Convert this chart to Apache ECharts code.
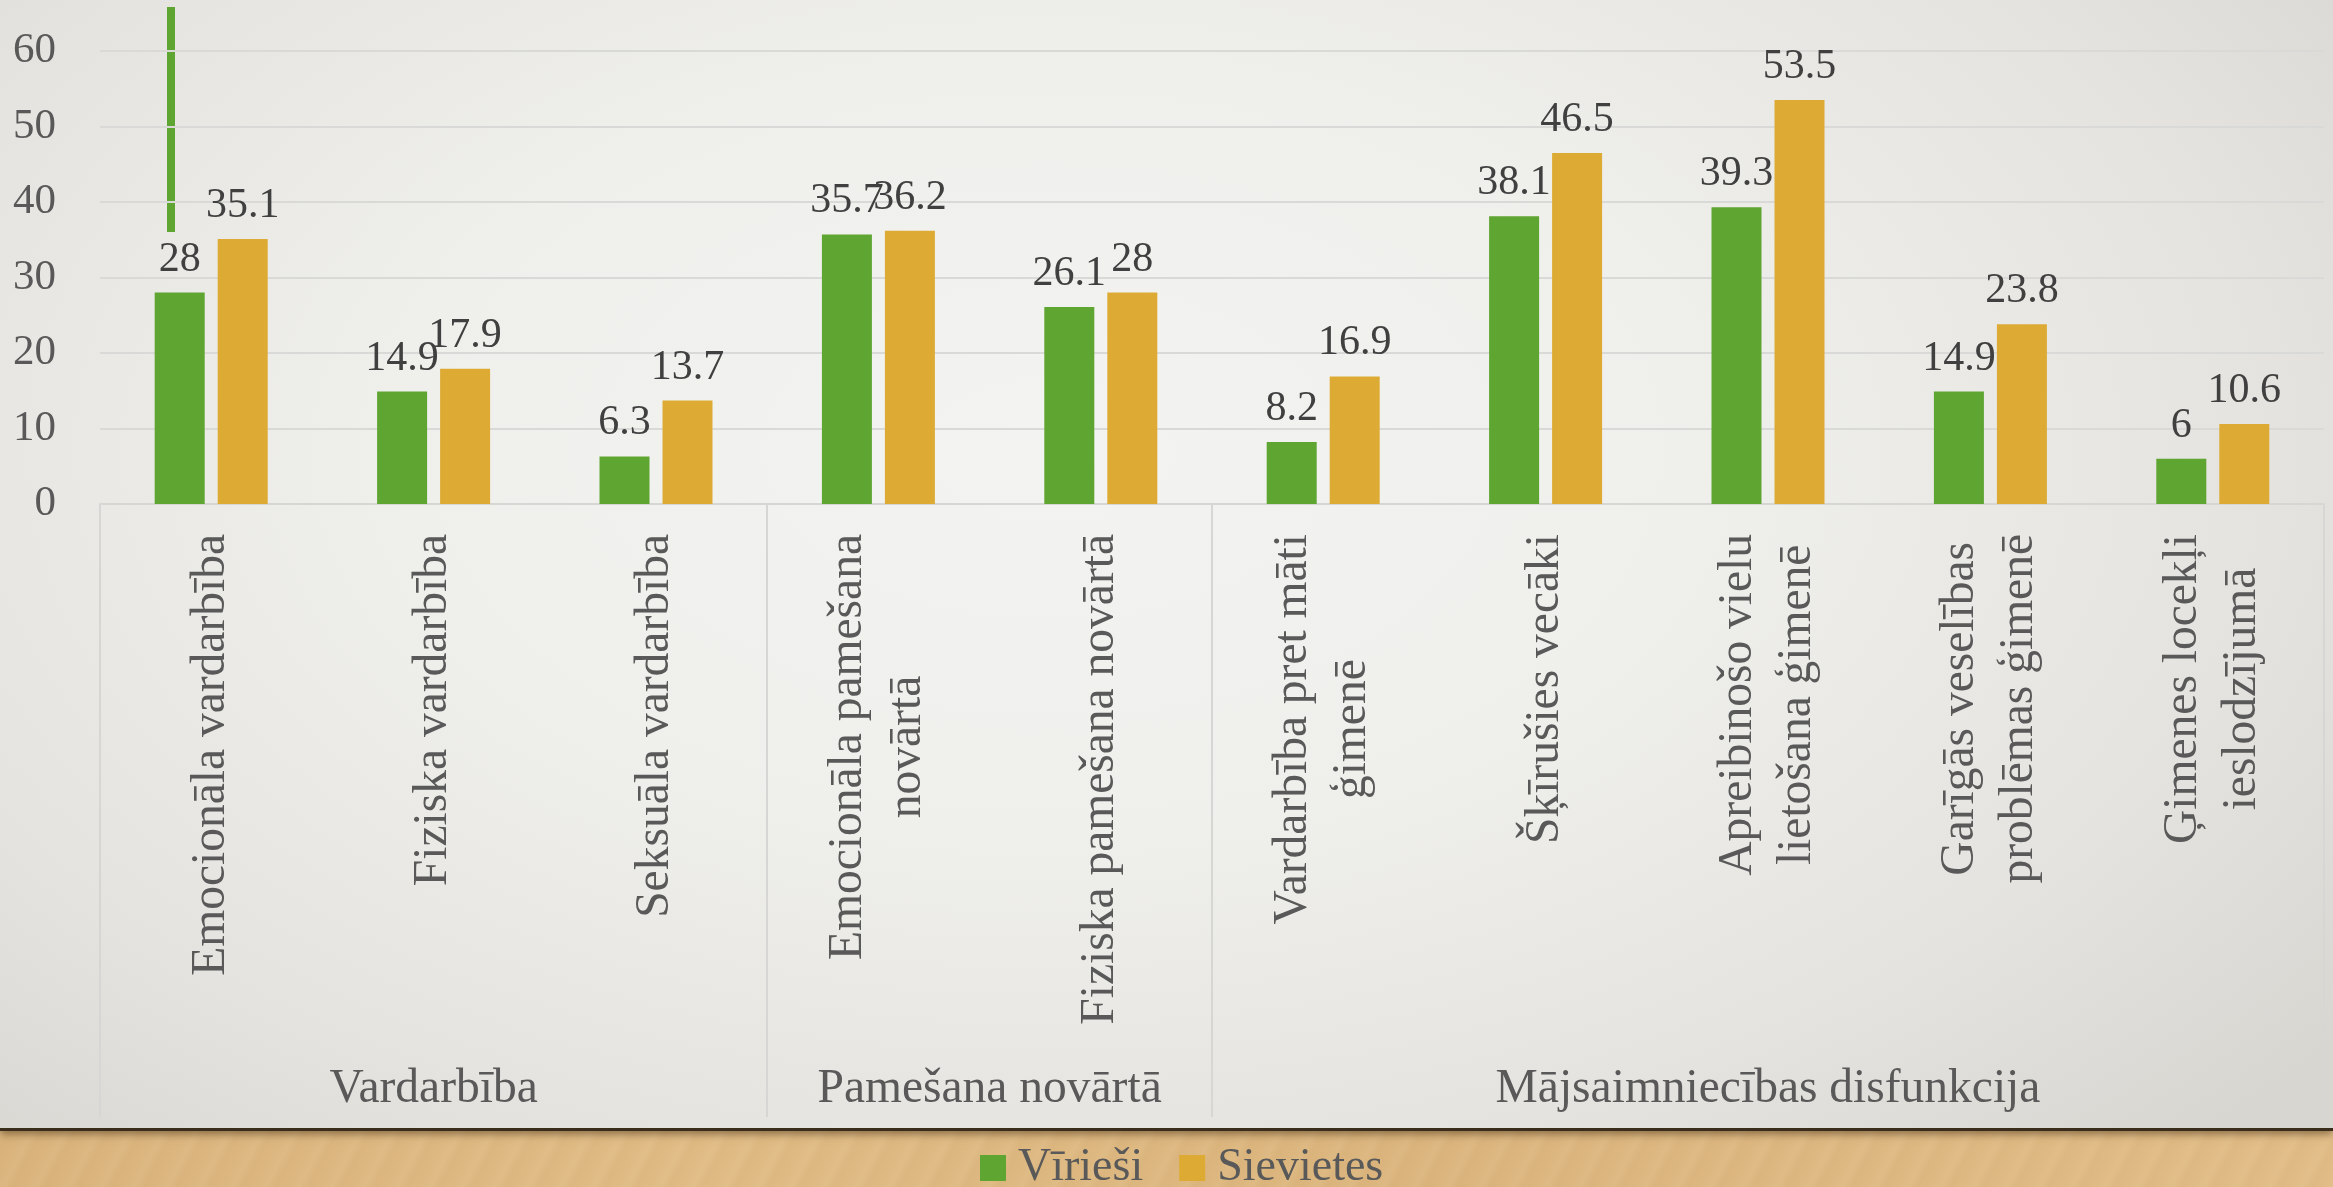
<!DOCTYPE html>
<html>
<head>
<meta charset="utf-8">
<script src="https://cdn.jsdelivr.net/npm/echarts@6/dist/echarts.min.js"></script>
<style>
  html, body { margin: 0; padding: 0; }
  body {
    width: 2333px; height: 1187px; overflow: hidden; position: relative;
    background:
      repeating-linear-gradient(118deg, rgba(255,255,255,0) 0px, rgba(255,240,215,0.06) 9px, rgba(150,100,45,0.03) 17px, rgba(255,255,255,0) 29px),
      linear-gradient(90deg, #dab47c 0%, #e0bb84 30%, #dbb57d 60%, #e1bc86 100%);
  }
  .panel {
    position: absolute; left: 0; top: 0; width: 2333px; height: 1128px;
    background: radial-gradient(ellipse 70% 85% at 45% 40%, #f3f3f1 0%, #efefec 40%, #e4e3df 75%, #d7d6d1 100%);
    box-shadow: 0 3px 0 #3b2d1c, 0 6px 8px rgba(70,45,20,0.55);
  }
  #chart { position: absolute; left: 0; top: 0; width: 2333px; height: 1187px; }
</style>
</head>
<body>
<div class="panel"></div>
<div id="chart"></div>
<script>
const categories = [
  'Emocionāla vardarbība',
  'Fiziska vardarbība',
  'Seksuāla vardarbība',
  'Emocionāla pamešana\nnovārtā',
  'Fiziska pamešana novārtā',
  'Vardarbība pret māti\nģimenē',
  'Šķīrušies vecāki',
  'Apreibinošo vielu\nlietošana ģimenē',
  'Garīgās veselības\nproblēmas ģimenē',
  'Ģimenes locekļi\nieslodzījumā'
];
const groupNames = ['Vardarbība', 'Pamešana novārtā', 'Mājsaimniecības disfunkcija'];
const groupSizes = [3, 2, 5];
const men = [28, 14.9, 6.3, 35.7, 26.1, 8.2, 38.1, 39.3, 14.9, 6];
const women = [35.1, 17.9, 13.7, 36.2, 28, 16.9, 46.5, 53.5, 23.8, 10.6];
const yTicks = [0, 10, 20, 30, 40, 50, 60];

// group boundaries and centers on a 0..N value scale
const bounds = [0];
groupSizes.forEach(n => bounds.push(bounds[bounds.length - 1] + n));
const centers = groupSizes.map((n, i) => bounds[i] + n / 2);

const font = 'Liberation Serif';
const chart = echarts.init(document.getElementById('chart'));
chart.setOption({
  backgroundColor: 'transparent',
  textStyle: { fontFamily: font },
  grid: { left: 100, right: 9, top: 51, bottom: 683 },
  legend: {
    left: 975, top: 1140,
    icon: 'rect', itemWidth: 26, itemHeight: 26, itemGap: 36,
    textStyle: { fontSize: 46, color: '#595959', fontFamily: font, padding: [0, 0, 0, 7] },
    data: ['Vīrieši', 'Sievietes']
  },
  xAxis: [{
    type: 'category',
    data: categories,
    axisLine: { lineStyle: { color: '#d6d6d4', width: 2 } },
    axisTick: { show: false },
    axisLabel: {
      interval: 0, rotate: 90, margin: 30,
      formatter: v => v.split('\n').map(s => '{c|' + s + '}').join('\n'),
      rich: { c: { align: 'center', fontSize: 47.5, lineHeight: 59, color: '#595959', fontFamily: font } }
    }
  }, {
    type: 'value', min: 0, max: categories.length,
    position: 'bottom',
    axisLine: { show: false },
    splitLine: { show: false },
    axisTick: { customValues: bounds, length: 613, lineStyle: { color: '#d6d6d4', width: 2 } },
    axisLabel: {
      customValues: centers, margin: 562,
      fontSize: 47.5, color: '#595959', fontFamily: font,
      formatter: v => groupNames[centers.indexOf(v)]
    }
  }],
  yAxis: {
    type: 'value', min: yTicks[0], max: yTicks[yTicks.length - 1], interval: 10,
    axisLine: { show: false }, axisTick: { show: false },
    splitLine: { lineStyle: { color: '#d9d9d7', width: 2 } },
    axisLabel: { fontSize: 43, color: '#595959', margin: 44, fontFamily: font }
  },
  graphic: [{
    type: 'rect', left: 167, top: 7, z: -1,
    shape: { width: 8, height: 225 },
    style: { fill: '#5EA531' }
  }],
  series: [{
    name: 'Vīrieši', type: 'bar', data: men,
    barWidth: 50, barGap: '26%',
    itemStyle: { color: '#5EA531' },
    label: { show: true, position: 'top', distance: 12, fontSize: 42, color: '#404040', fontFamily: font }
  }, {
    name: 'Sievietes', type: 'bar', data: women,
    barWidth: 50,
    itemStyle: { color: '#DDAB34' },
    label: { show: true, position: 'top', distance: 12, fontSize: 42, color: '#404040', fontFamily: font }
  }]
});
</script>
</body>
</html>
